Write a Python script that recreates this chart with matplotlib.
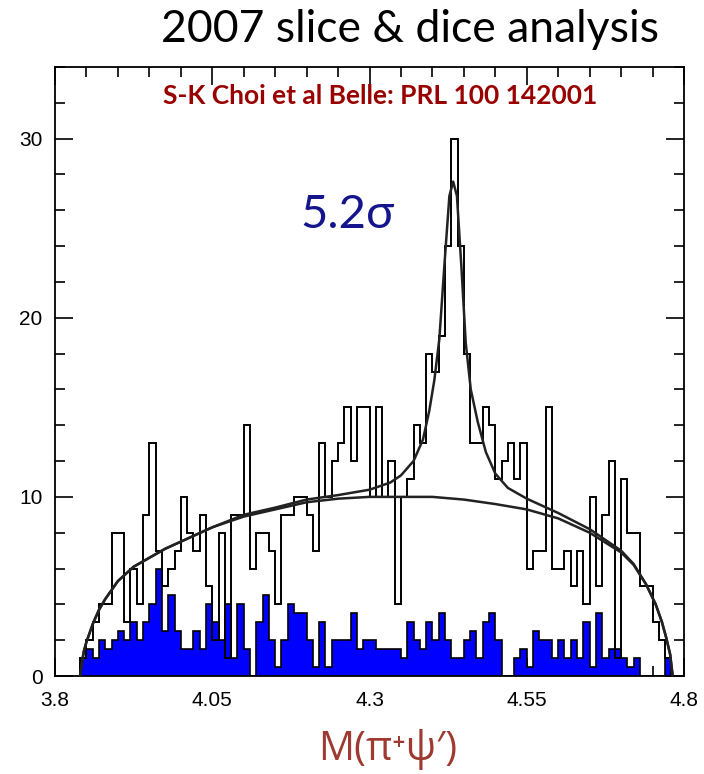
import matplotlib
matplotlib.use("Agg")
import matplotlib.pyplot as plt
import numpy as np
from matplotlib.ticker import MultipleLocator

# 10 MeV bins from 3.84 to 4.78 GeV
bin_lo = 3.84
bin_hi = 4.78

# signal-region events (black outline)
signal_counts = [
    1, 2, 3, 4, 4, 8, 8, 3, 6, 4,
    9, 13, 7, 5, 6, 7, 10, 8, 7, 9,
    5, 2, 8, 1, 9, 9, 14, 6, 8, 8,
    7, 4, 9, 9, 10, 10, 9, 7, 13, 10,
    12, 13, 15, 12, 15, 15, 10, 15, 10, 12,
    4, 10, 11, 14, 13, 18, 17, 19, 24, 30,
    24, 18, 13, 13, 15, 14, 11, 12, 13, 11,
    13, 6, 7, 7, 15, 6, 6, 7, 5, 7,
    4, 10, 5, 9, 12, 1, 11, 8, 8, 5,
    5, 3, 2, 1,
]

# scaled sideband events (blue fill)
sideband_counts = [
    1, 1.5, 1, 2, 1.5, 2, 2.5, 2, 3, 2,
    3, 4, 6, 2.5, 4.5, 2.5, 1.5, 1.5, 2.5, 1.5,
    4, 3, 2, 4, 1, 4, 1.5, 0, 3, 4.5,
    2, 0.5, 2, 4, 3.5, 3.5, 2, 0.5, 3, 0.5,
    2, 2, 2, 3.5, 1.5, 2, 2, 1.5, 1.5, 1.5,
    1.5, 1, 3, 2, 1.5, 3, 2, 3.5, 2, 1,
    1, 2, 2.5, 1, 3, 3.5, 2, 0, 0, 1,
    1.5, 0.5, 2.5, 2, 2, 1, 2, 1, 2, 1,
    3, 0.5, 3.5, 1, 1.5, 1.5, 1, 0.5, 1, 0,
    0, 0, 0, 1,
]

# background (phase space) curve
bkg_mass = [3.840, 3.843, 3.846, 3.850, 3.860, 3.870, 3.880, 3.900, 3.925,
            3.950, 3.975, 4.000, 4.025, 4.050, 4.100, 4.150, 4.200, 4.250,
            4.300, 4.350, 4.400, 4.450, 4.500, 4.550, 4.600, 4.650, 4.700,
            4.720, 4.740, 4.755, 4.765, 4.772, 4.778, 4.782]
bkg_yield = [0.0, 0.8, 1.4, 1.9, 2.9, 3.7, 4.3, 5.3, 6.1,
             6.6, 7.1, 7.5, 7.9, 8.3, 8.9, 9.3, 9.7, 9.9,
             10.0, 10.0, 10.0, 9.85, 9.6, 9.3, 8.8, 8.0, 6.9,
             6.2, 5.1, 4.0, 3.0, 2.1, 1.2, 0.0]

# signal + background fit curve
fit_mass = [3.840, 3.843, 3.846, 3.850, 3.860, 3.870, 3.880, 3.900, 3.925,
            3.950, 3.975, 4.000, 4.025, 4.050, 4.100, 4.150, 4.200, 4.250,
            4.300, 4.333, 4.350, 4.370, 4.385, 4.395, 4.403, 4.411, 4.419,
            4.427, 4.433, 4.439, 4.446, 4.453, 4.461, 4.472, 4.485, 4.500,
            4.520, 4.550, 4.600, 4.650, 4.700, 4.720, 4.740, 4.755, 4.765,
            4.772, 4.778, 4.782]
fit_yield = [0.0, 0.8, 1.4, 1.9, 2.9, 3.7, 4.3, 5.3, 6.1,
             6.6, 7.1, 7.5, 7.9, 8.3, 9.0, 9.4, 9.85, 10.1,
             10.4, 10.8, 11.2, 12.0, 13.2, 14.8, 16.5, 18.8, 22.9,
             26.8, 27.6, 26.8, 22.9, 18.6, 16.0, 14.2, 12.5, 11.3,
             10.5, 9.9, 9.1, 8.2, 7.0, 6.25, 5.1, 4.0, 3.0,
             2.1, 1.2, 0.0]

x_ticks = [3.8, 4.05, 4.3, 4.55, 4.8]
y_ticks = [0, 10, 20, 30]

edges = np.linspace(bin_lo, bin_hi, len(signal_counts) + 1)

fig = plt.figure(figsize=(7.04, 7.74), dpi=100)
ax = fig.add_axes([55 / 704, 98 / 774, 629 / 704, 609 / 774])

ax.stairs(sideband_counts, edges, fill=True, facecolor="#0000ff",
          edgecolor="black", linewidth=1.2, zorder=2)
ax.stairs(signal_counts, edges, color="black", linewidth=1.4, zorder=3)
ax.plot(bkg_mass, bkg_yield, color="#222222", linewidth=1.8, zorder=4)
ax.plot(fit_mass, fit_yield, color="#222222", linewidth=1.8, zorder=4)

ax.set_xlim(3.8, 4.8)
ax.set_ylim(0, 34)
ax.set_xticks(x_ticks)
ax.set_xticklabels([str(t) for t in x_ticks])
ax.set_yticks(y_ticks)
ax.xaxis.set_minor_locator(MultipleLocator(0.05))
ax.yaxis.set_minor_locator(MultipleLocator(2))
ax.tick_params(which="both", direction="in", top=True, right=True,
               width=1.2, labelsize=15)
ax.tick_params(axis="x", pad=11)
ax.tick_params(axis="y", pad=9)
ax.tick_params(which="major", length=13)
ax.tick_params(which="minor", length=7)
for lab in ax.get_xticklabels() + ax.get_yticklabels():
    lab.set_family("Liberation Sans")
for sp in ax.spines.values():
    sp.set_linewidth(1.3)

fig.text(410 / 704, 1 - 30 / 774, "2007 slice & dice analysis",
         ha="center", va="center", fontsize=32, family=["Lato", "DejaVu Sans"])
ax.text(0.517, 0.952, "S-K Choi et al Belle: PRL 100 142001",
        transform=ax.transAxes, ha="center", va="center", fontsize=19,
        fontweight="bold", color="#990000", family=["Lato", "DejaVu Sans"])
ax.text(0.465, 0.757, "5.2σ", transform=ax.transAxes, ha="center",
        va="center", fontsize=34, color="#14148c",
        family=["Lato", "DejaVu Serif"])
fig.text(388 / 704, 1 - 750 / 774, "M(π⁺ψ′)", ha="center", va="center",
         fontsize=29, color="#9e3a32", family=["Open Sans", "DejaVu Sans"])

fig.savefig("out.png", dpi=100)
